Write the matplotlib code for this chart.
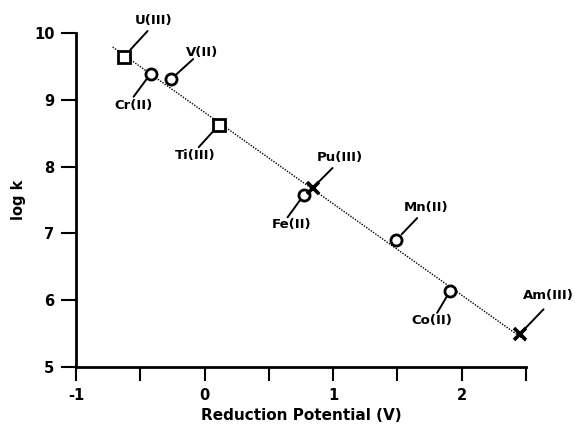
import numpy as np
import matplotlib
matplotlib.use("Agg")
import matplotlib.pyplot as plt

plt.rcParams['font.family'] = ['DejaVu Sans']
plt.rcParams['font.weight'] = 'bold'

# Data
names = ["U(III)", "Cr(II)", "V(II)", "Ti(III)", "Fe(II)", "Pu(III)", "Mn(II)", "Co(II)", "Am(III)"]
potential = [-0.63, -0.42, -0.26, 0.11, 0.77, 0.84, 1.49, 1.91, 2.45]
logk = [9.64, 9.39, 9.31, 8.62, 7.57, 7.68, 6.90, 6.14, 5.49]
marker_kind = ["s", "o", "o", "s", "o", "x", "o", "o", "x"]

x_ticks_major = [-1, 0, 1, 2]
x_ticks_minor = [-0.5, 0.5, 1.5, 2.5]
y_ticks = [5, 6, 7, 8, 9, 10]
fit_range = [-0.715, 2.53]

# label layout: (text dx, text dy, leader end dx, dy, leader start gap) in pixels
label_layout = {
    "U(III)": (30, 37, 24, 26, 10),
    "Cr(II)": (-17, -32, -17, -23, 7),
    "V(II)": (31, 27, 22, 20, 7),
    "Ti(III)": (-24, -30, -20, -22, 8),
    "Fe(II)": (-12, -29, -16, -22, 6),
    "Pu(III)": (27, 30, 20, 20, 9),
    "Mn(II)": (30, 33, 21, 22, 8),
    "Co(II)": (-18, -30, -13, -22, 7),
    "Am(III)": (29, 39, 24, 25, 9),
}

fig = plt.figure(figsize=(5.75, 4.33), dpi=100)
ax = fig.add_axes([76/575, (433-367)/433, (526-76)/575, (367-33)/433])

# regression line
coef = np.polyfit(potential, logk, 1)
xs = np.array(fit_range)
ax.plot(xs, np.polyval(coef, xs), linestyle=(0, (1, 1)), color='black', lw=1.0, zorder=1)

for x, y, m in zip(potential, logk, marker_kind):
    if m == "x":
        ax.plot(x, y, marker='x', ms=9, mew=2.6, color='black', linestyle='none', zorder=3)
    elif m == "s":
        ax.plot(x, y, marker='s', ms=9, mew=2.0, mfc='white', mec='black', linestyle='none', zorder=3)
    else:
        ax.plot(x, y, marker='o', ms=8, mew=2.0, mfc='white', mec='black', linestyle='none', zorder=3)

for n, x, y in zip(names, potential, logk):
    tdx, tdy, ldx, ldy, gap = label_layout[n]
    ax.annotate('', xy=(x, y), xytext=(ldx, ldy), textcoords='offset pixels',
                arrowprops=dict(arrowstyle='-', shrinkA=0, shrinkB=gap * 0.72, lw=1.4, color='black'))
    ax.annotate(n, xy=(x, y), xytext=(tdx, tdy), textcoords='offset pixels',
                ha='center', va='center', fontsize=9.5, fontweight='bold')

ax.set_xlim(-1, 2.5)
ax.set_ylim(5, 10)
ax.set_xticks(x_ticks_major)
ax.set_xticklabels([str(t) for t in x_ticks_major])
ax.set_xticks(x_ticks_minor, minor=True)
ax.set_yticks(y_ticks)
ax.set_yticklabels([str(t) for t in y_ticks])

for s in ['top', 'right']:
    ax.spines[s].set_visible(False)
for s in ['left', 'bottom']:
    ax.spines[s].set_linewidth(2.0)

ax.tick_params(axis='y', which='major', direction='out', length=10.5, width=1.5, labelsize=10.5, pad=5)
ax.tick_params(axis='x', which='both', direction='out', length=10, width=1.5, labelsize=10.5, pad=5)

ax.set_xlabel("Reduction Potential (V)", fontsize=11, fontweight='bold', labelpad=4)
ax.set_ylabel("log k", fontsize=10.5, fontweight='bold', labelpad=6)

fig.savefig("out.png", dpi=100)
